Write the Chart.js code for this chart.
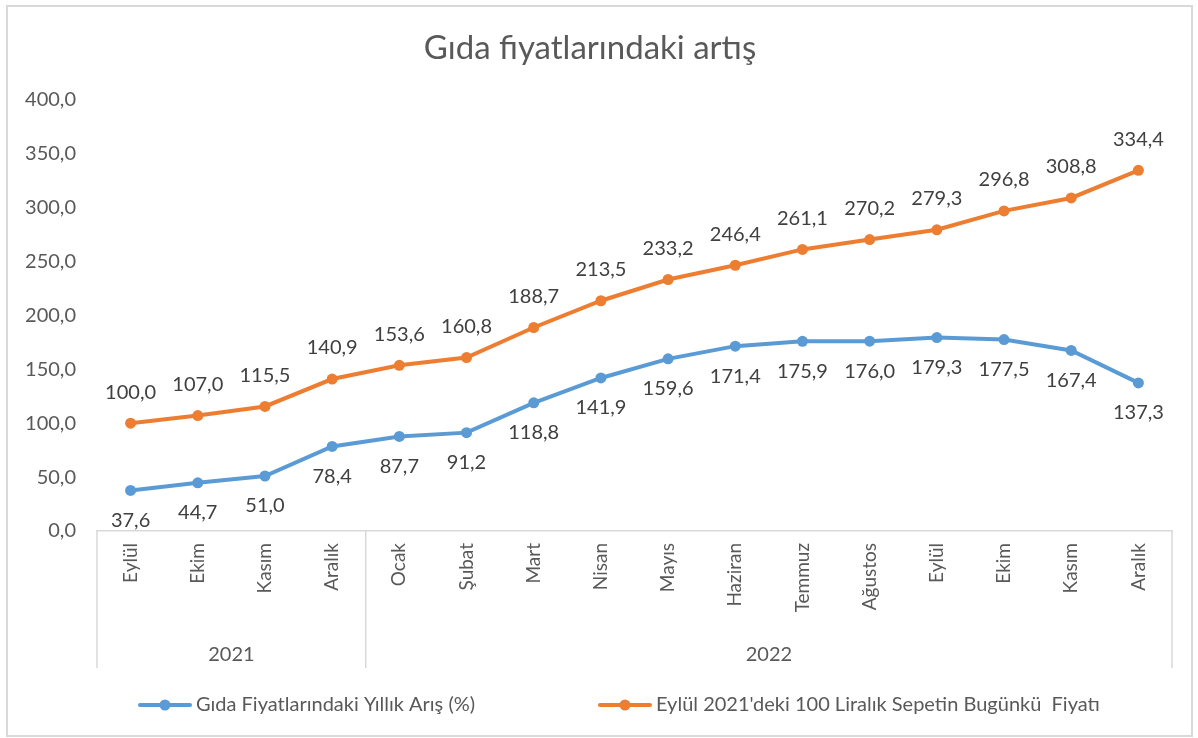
<!DOCTYPE html>
<html>
<head>
<meta charset="utf-8">
<script src="https://cdn.jsdelivr.net/npm/chart.js@4/dist/chart.umd.min.js"></script>
<style>
html,body{margin:0;padding:0;background:#fff;}
#wrap{width:1198px;height:738px;position:relative;}
</style>
</head>
<body>
<div id="wrap"><canvas id="c" width="1198" height="738"></canvas></div>
<script>
const titleText = "Gıda fiyatlarındaki artış";
const months = ["Eylül","Ekim","Kasım","Aralık","Ocak","Şubat","Mart","Nisan","Mayıs","Haziran","Temmuz","Ağustos","Eylül","Ekim","Kasım","Aralık"];
const yearNames = ["2021","2022"];
const yearSpans = [4,12];
const seriesNames = ["Gıda Fiyatlarındaki Yıllık Arış (%)","Eylül 2021'deki 100 Liralık Sepetin Bugünkü  Fiyatı"];
const annualIncrease = [37.6,44.7,51.0,78.4,87.7,91.2,118.8,141.9,159.6,171.4,175.9,176.0,179.3,177.5,167.4,137.3];
const basketPrice = [100.0,107.0,115.5,140.9,153.6,160.8,188.7,213.5,233.2,246.4,261.1,270.2,279.3,296.8,308.8,334.4];
const yTicks = [0,50,100,150,200,250,300,350,400];

const BLUE = '#5B9BD5', ORANGE = '#ED7D31', TXT = '#595959', GRID = '#d9d9d9';
const FONT = 'Lato';
const fmt = v => v.toFixed(1).replace('.', ',');

const decor = {
  id: 'decor',
  beforeDraw(chart){
    const ctx = chart.ctx;
    ctx.save();
    ctx.fillStyle = '#fff';
    ctx.fillRect(0,0,chart.width,chart.height);
    ctx.strokeStyle = GRID; ctx.lineWidth = 2;
    ctx.strokeRect(7,6,1185,730);
    ctx.restore();
  },
  afterDraw(chart){
    const ctx = chart.ctx, xs = chart.scales.x, area = chart.chartArea;
    const half = (xs.getPixelForValue(1) - xs.getPixelForValue(0)) / 2;
    const bottom = xs.bottom;
    ctx.save();
    ctx.strokeStyle = GRID; ctx.lineWidth = 1.5;
    let idx = 0;
    const bounds = [xs.getPixelForValue(0) - half];
    yearSpans.forEach(s => { idx += s; bounds.push(xs.getPixelForValue(idx-1) + half); });
    bounds.forEach(b => { ctx.beginPath(); ctx.moveTo(b, area.bottom); ctx.lineTo(b, bottom); ctx.stroke(); });
    ctx.fillStyle = TXT; ctx.font = '20px ' + FONT; ctx.textAlign = 'center'; ctx.textBaseline = 'middle';
    yearNames.forEach((y,i) => { ctx.fillText(y, (bounds[i]+bounds[i+1])/2, area.bottom + 124); });

    // legend
    const legendY = 705;
    const items = [{x: 140, color: BLUE, text: seriesNames[0]}, {x: 600, color: ORANGE, text: seriesNames[1]}];
    ctx.font = '20px ' + FONT; ctx.textAlign = 'left';
    items.forEach(it => {
      ctx.strokeStyle = it.color; ctx.lineWidth = 4; ctx.lineCap = 'round';
      ctx.beginPath(); ctx.moveTo(it.x, legendY); ctx.lineTo(it.x + 50, legendY); ctx.stroke();
      ctx.fillStyle = it.color; ctx.beginPath(); ctx.arc(it.x + 25, legendY, 5.5, 0, Math.PI*2); ctx.fill();
      ctx.fillStyle = TXT; ctx.fillText(it.text, it.x + 56, legendY);
    });
    ctx.restore();
  },
  afterDatasetsDraw(chart){
    const ctx = chart.ctx;
    ctx.save();
    ctx.fillStyle = '#404040'; ctx.font = '20px ' + FONT; ctx.textAlign = 'center'; ctx.textBaseline = 'middle';
    chart.data.datasets.forEach((ds, di) => {
      const meta = chart.getDatasetMeta(di);
      meta.data.forEach((pt, i) => {
        const off = di === 0 ? 30 : -31;
        ctx.fillText(fmt(ds.data[i]), pt.x, pt.y + off);
      });
    });
    ctx.restore();
  }
};

new Chart(document.getElementById('c'), {
  type: 'line',
  data: {
    labels: months,
    datasets: [
      {label: seriesNames[0], data: annualIncrease, borderColor: BLUE, backgroundColor: BLUE, borderWidth: 4, pointRadius: 5.5, pointBackgroundColor: BLUE, pointBorderWidth: 0, pointStyle: 'circle', tension: 0},
      {label: seriesNames[1], data: basketPrice, borderColor: ORANGE, backgroundColor: ORANGE, borderWidth: 4, pointRadius: 5.5, pointBackgroundColor: ORANGE, pointBorderWidth: 0, pointStyle: 'circle', tension: 0}
    ]
  },
  options: {
    responsive: false,
    animation: false,
    layout: {padding: {left: 8, right: 26, top: 8, bottom: 70}},
    plugins: {
      title: {display: true, text: titleText, color: TXT, font: {family: FONT, size: 33, weight: 'normal'}, padding: {top: 21, bottom: 31}},
      legend: {display: false},
      tooltip: {enabled: false}
    },
    scales: {
      x: {
        offset: true,
        grid: {display: false, drawTicks: false},
        border: {display: true, color: GRID, width: 1.5},
        ticks: {minRotation: 90, maxRotation: 90, color: TXT, font: {family: FONT, size: 19}, padding: 12, autoSkip: false},
        afterFit(s){ s.height = 137; }
      },
      y: {
        min: 0, max: 400,
        grid: {display: false, drawTicks: false},
        border: {display: false},
        afterBuildTicks(s){ s.ticks = yTicks.map(v => ({value: v})); },
        ticks: {color: TXT, font: {family: FONT, size: 20}, padding: 21, callback: v => fmt(v)},
        afterFit(s){ s.width = 89; }
      }
    }
  },
  plugins: [decor]
});
</script>
</body>
</html>
